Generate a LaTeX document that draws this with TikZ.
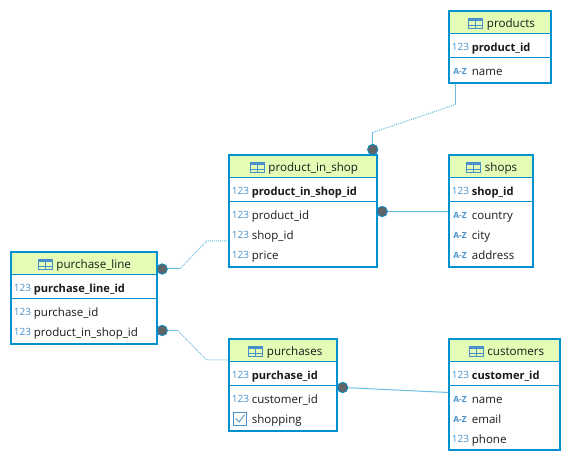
\documentclass[tikz,border=0pt]{standalone}
\usepackage{fontspec}
\setmainfont{Open Sans}
\usetikzlibrary{calc}
\definecolor{frameblue}{HTML}{0092D0}
\definecolor{iconblue}{HTML}{4A90C8}
\definecolor{headgreen}{HTML}{E3FDB6}
\definecolor{linkblue}{HTML}{6CBFE3}
\definecolor{dotgray}{HTML}{5E6468}
\tikzset{
	tableframe/.style = {draw=frameblue, line width=2pt, inner sep=0pt, anchor=north west},
	field/.style = {anchor=base west, inner sep=0pt, yshift=-4.6pt, text=black!90, font=\fontsize{11.5}{14}\selectfont},
	keyfield/.style = {field, font=\fontsize{11.1}{14}\selectfont\bfseries},
	title/.style = {field, font=\fontsize{11.6}{14}\selectfont},
	numicon/.style = {anchor=base west, inner sep=0pt, yshift=-4.2pt, text=iconblue, font=\fontsize{10}{12}\selectfont},
	azicon/.style = {anchor=base west, inner sep=0pt, yshift=-4pt, text=iconblue, font=\fontsize{8.4}{10}\selectfont\bfseries},
	link/.style = {linkblue, line width=1pt},
	linkdots/.style = {link, dash pattern=on 1pt off 1pt},
	conndot/.style = {circle, fill=dotgray, draw=frameblue, line width=0.7pt, minimum size=10.5pt, inner sep=0pt}
}
% table: name, left, top, width, title, title x offset
\newcommand{\dbtable}[6]{
	\fill[headgreen] (#2,#3) rectangle ++(#4,23);
	\node[title] (#1title) at (#2+#6,#3+12) {#5};
	\draw[frameblue, line width=1.2pt] (#2,#3+23) -- ++(#4,0);
	\draw[frameblue, line width=1.2pt] (#2,#3+47) -- ++(#4,0);
	\begin{scope}[shift={(#2+#6-18,#3+13)}]
		\draw[iconblue, line width=0.9pt] (0,-5) rectangle (14,5);
		\fill[iconblue] (0,-5) rectangle (14,-2);
		\draw[iconblue, line width=0.9pt] (0,1.5) -- (14,1.5) (7,-5) -- (7,5);
	\end{scope}
}
% row with a 123 or A-Z icon: name, left, y, text, style
\newcommand{\numrow}[5]{
	\node[numicon] (#1icon) at (#2+3.5,#3) {123};
	\node[#5] (#1) at (#2+23.5,#3) {#4};
}
\newcommand{\azrow}[4]{
	\node[azicon] (#1icon) at (#2+5,#3) {A-Z};
	\node[field] (#1) at (#2+23.5,#3) {#4};
}
\begin{document}
\begin{tikzpicture}[x=1pt, y=-1pt]
	\useasboundingbox (0.8,0.5) rectangle (571.8,462.5);

	% Products
	\dbtable{products}{449}{11}{102}{products}{38.5}
	\numrow{productid}{449}{47}{product\_id}{keyfield}
	\azrow{productname}{449}{71}{name}
	\node[tableframe, minimum width=102pt, minimum height=72pt] (products) at (449,11) {};

	% Product in shop
	\dbtable{pis}{229}{155}{148}{product\_in\_shop}{40}
	\numrow{pisid}{229}{191}{product\_in\_shop\_id}{keyfield}
	\numrow{pisproduct}{229}{215}{product\_id}{field}
	\numrow{pisshop}{229}{235}{shop\_id}{field}
	\numrow{pisprice}{229}{255}{price}{field}
	\node[tableframe, minimum width=148pt, minimum height=112pt] (pis) at (229,155) {};

	% Shops
	\dbtable{shops}{449}{155}{84}{shops}{36.5}
	\numrow{shopid}{449}{191}{shop\_id}{keyfield}
	\azrow{shopcountry}{449}{215}{country}
	\azrow{shopcity}{449}{235}{city}
	\azrow{shopaddress}{449}{255}{address}
	\node[tableframe, minimum width=84pt, minimum height=112pt] (shops) at (449,155) {};

	% Purchase line
	\dbtable{pl}{11}{252}{146}{purchase\_line}{46}
	\numrow{plid}{11}{288}{purchase\_line\_id}{keyfield}
	\numrow{plpurchase}{11}{312}{purchase\_id}{field}
	\numrow{plpis}{11}{332}{product\_in\_shop\_id}{field}
	\node[tableframe, minimum width=146pt, minimum height=92pt] (pl) at (11,252) {};

	% Purchases
	\dbtable{purchases}{229}{339}{108}{purchases}{38.5}
	\numrow{purchaseid}{229}{375}{purchase\_id}{keyfield}
	\numrow{purchasecustomer}{229}{399}{customer\_id}{field}
	\node[field] (shopping) at (252.5,419) {shopping};
	\draw[iconblue, line width=0.8pt] (234.5,412.5) rectangle (247.5,425.5);
	\draw[iconblue, line width=0.8pt] (236.5,419) -- (240,422.5) -- (245.5,415);
	\node[tableframe, minimum width=108pt, minimum height=92pt] (purchases) at (229,339) {};

	% Customers
	\dbtable{customers}{449}{339}{111}{customers}{39}
	\numrow{customerid}{449}{375}{customer\_id}{keyfield}
	\azrow{customername}{449}{399}{name}
	\azrow{customeremail}{449}{419}{email}
	\numrow{customerphone}{449}{439}{phone}{field}
	\node[tableframe, minimum width=111pt, minimum height=111pt] (customers) at (449,339) {};

	% Dots
	\node[conndot] (dotproducts) at (373.5,150) {};
	\node[conndot] (dotshops) at (383,212) {};
	\node[conndot] (dotplpis) at (163,269.5) {};
	\node[conndot] (dotplpurchases) at (163,331) {};
	\node[conndot] (dotcustomers) at (343.5,388) {};

	% Links
	\coordinate (bendproducts) at (456.5,105);
	\coordinate (benddot) at (373.5,133);
	\draw[link] (bendproducts |- products.south) -- (bendproducts);
	\draw[linkdots] (bendproducts) -- (benddot);
	\draw[link] (benddot) -- (dotproducts);

	\draw[link] (dotshops) -- (shops.west |- dotshops);

	\coordinate (plbendone) at (180.5,269.5);
	\coordinate (plbendtwo) at (207.5,241.5);
	\draw[link] (dotplpis) -- (plbendone);
	\draw[linkdots] (plbendone) -- (plbendtwo) -- (pis.west |- plbendtwo);

	\coordinate (plbendthree) at (178.5,331);
	\coordinate (plbendfour) at (207.5,360.5);
	\draw[link] (dotplpurchases) -- (plbendthree);
	\draw[linkdots] (plbendthree) -- (plbendfour) -- (purchases.west |- plbendfour);

	\coordinate (custend) at (449,393);
	\draw[link] (dotcustomers) -- (custend);
\end{tikzpicture}
\end{document}
